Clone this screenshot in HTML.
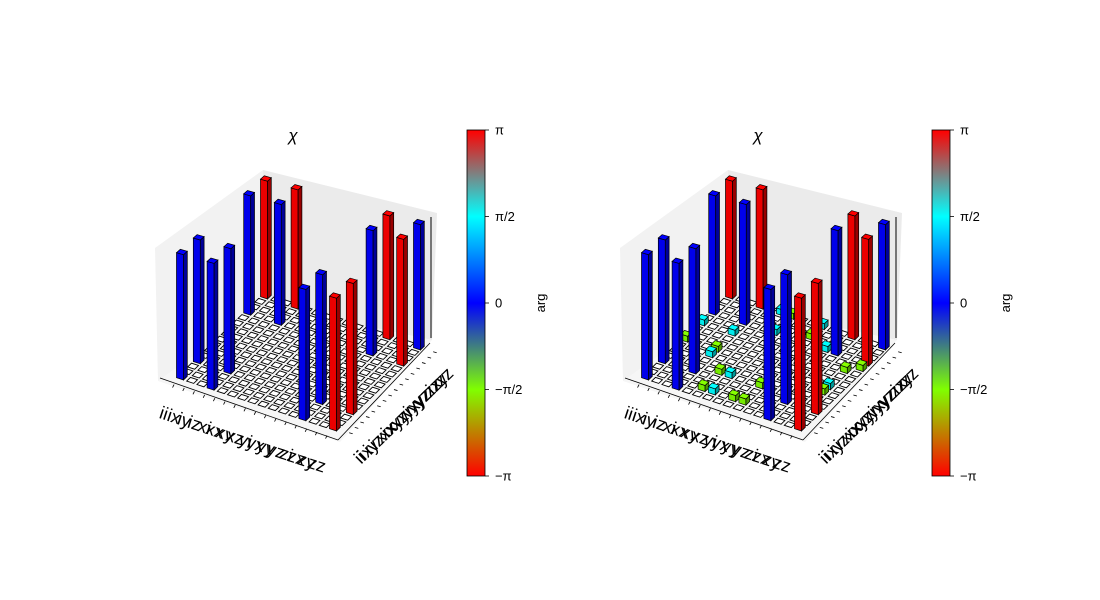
<!DOCTYPE html>
<html><head><meta charset="utf-8">
<style>
body{margin:0;background:#fff;}
svg{display:block;font-family:"Liberation Sans","DejaVu Sans",sans-serif;}
</style></head>
<body>
<svg id="fig" width="1100" height="600" viewBox="0 0 1100 600">
<defs>
<linearGradient id="phaseGrad" x1="0" y1="1" x2="0" y2="0">
<stop offset="0" stop-color="#ff0000"/>
<stop offset="0.25" stop-color="#80ff00"/>
<stop offset="0.5" stop-color="#0000ff"/>
<stop offset="0.75" stop-color="#00ffff"/>
<stop offset="1" stop-color="#ff0000"/>
</linearGradient>
</defs>
</svg>
<script>
const labels = ["ii","ix","iy","iz","xi","xx","xy","xz","yi","yx","yy","yz","zi","zx","zy","zz"];
// left plot (ideal)
const leftRow = [0,0,3,3,0,0,3,3,12,12,15,15,12,12,15,15];
const leftCol = [0,3,0,3,12,15,12,15,0,3,0,3,12,15,12,15];
const leftMag = [0.25,0.25,0.25,0.25,0.25,0.25,0.25,0.25,0.25,0.25,0.25,0.25,0.25,0.25,0.25,0.25];
const leftPhase = [0,0,0,0,0,3.1416,0,3.1416,0,0,3.1416,3.1416,0,3.1416,3.1416,0];
// right plot (estimated)
const rightRow = [0,0,3,3,0,0,3,3,12,12,15,15,12,12,15,15, 0,0,3,3,3,5,6,5,6,8,9,9,5,6,6,9,9,11,14,15,14,14];
const rightCol = [0,3,0,3,12,15,12,15,0,3,0,3,12,15,12,15, 7,10,10,6,7,4,4,1,1,1,1,4,15,12,15,13,15,12,10,11,7,6];
const rightMag = [0.25,0.25,0.25,0.25,0.25,0.25,0.25,0.25,0.25,0.25,0.25,0.25,0.25,0.25,0.25,0.25,
 0.012,0.012,0.012,0.012,0.012,0.012,0.012,0.012,0.012,0.012,0.012,0.012,0.012,0.012,0.012,0.012,0.012,0.012,0.012,0.012,0.012,0.012];
const rightPhase = [0,0,0,0,0,3.1416,0,3.1416,0,0,3.1416,3.1416,0,3.1416,3.1416,0,
 -1.57,1.57,1.57,1.57,-1.57,-1.57,1.57,-1.57,1.57,-1.57,-1.57,-1.57,1.57,1.57,-1.57,-1.57,1.57,1.57,-1.57,-1.57,1.57,-1.57];
const cbTicks = ["\u2212\u03c0","\u2212\u03c0/2","0","\u03c0/2","\u03c0"];
const cbTickVals = [-Math.PI,-Math.PI/2,0,Math.PI/2,Math.PI];

const NS="http://www.w3.org/2000/svg";
const svg=document.getElementById('fig');
function mk(tag,attrs,parent){const e=document.createElementNS(NS,tag);for(const k in attrs)e.setAttribute(k,attrs[k]);(parent||svg).appendChild(e);return e;}

function cmap(p){
  let t=(p+Math.PI)/(2*Math.PI);t=Math.max(0,Math.min(1,t));
  const st=[[0,[1,0,0]],[0.25,[0.5,1,0]],[0.5,[0,0,1]],[0.75,[0,1,1]],[1,[1,0,0]]];
  for(let k=0;k<4;k++){const a=st[k],b=st[k+1];if(t<=b[0]){const f=(t-a[0])/(b[0]-a[0]);return a[1].map((v,n)=>v+(b[1][n]-v)*f);}}
  return [1,0,0];
}
function rgb(c,f){return 'rgb('+c.map(v=>Math.round(Math.min(1,v*f)*255)).join(',')+')';}

function drawPlot(ox,rows,cols,mags,phases,name){
  const g=mk('g',{});
  
  
  const dx=ox;
  const O=[174+dx,378];
  const P=(i,j,z)=>{const H=4*(125+0.5*(i-j));return [O[0]+i*10.2+j*5.6, O[1]+i*3.4-j*5.4-z*H];};
  const pt=a=>a.map(p=>p[0].toFixed(1)+','+p[1].toFixed(1)).join(' ');
  const lw=mk('polygon',{points:pt([[155+dx,248],[263+dx,170],[266+dx,305],[158+dx,381]]),fill:'#f2f2f2'},g);
  
  const bw=mk('polygon',{points:pt([[263+dx,170],[437+dx,213],[432+dx,340],[266+dx,305]]),fill:'#ebebeb'},g);
  
  const fl=mk('polygon',{points:pt([[158+dx,381],[266+dx,305],[432+dx,340],[340+dx,442]]),fill:'#f6f6f6'},g);
  
  const xa=mk('line',{x1:160+dx,y1:378,x2:338+dx,y2:440,stroke:'#000','stroke-width':0.8},g);
  
  const ya=mk('line',{x1:338+dx,y1:440,x2:430+dx,y2:343,stroke:'#000','stroke-width':0.8},g);
  
  const za=mk('line',{x1:431+dx,y1:217,x2:431+dx,y2:338,stroke:'#000','stroke-width':1},g);
  
  for(let k=0;k<16;k++){
    const a=P(k+0.5,-0.9,0);
    const t=mk('line',{x1:a[0],y1:a[1],x2:a[0]-1.5,y2:a[1]+3,stroke:'#000','stroke-width':0.8},g);
    
    const b=P(16.9,k+0.5,0);
    const u=mk('line',{x1:b[0],y1:b[1],x2:b[0]+3.5,y2:b[1]+1,stroke:'#000','stroke-width':0.8},g);
    
  }
  const vals={};
  for(let n=0;n<rows.length;n++)vals[rows[n]+'_'+cols[n]]=[mags[n],phases[n]];
  const cells=[];
  for(let i=0;i<16;i++)for(let j=0;j<16;j++)cells.push([i,j]);
  cells.sort((a,b)=>(3.4*a[0]-5.4*a[1])-(3.4*b[0]-5.4*b[1]));
  const w=0.68;
  for(const [i,j] of cells){
    const v=vals[i+'_'+j];
    const x0=i+0.5-w/2,x1=i+0.5+w/2,y0=j+0.5-w/2,y1=j+0.5+w/2;
    if(!v){
      const q=mk('polygon',{points:pt([P(x0,y0,0),P(x1,y0,0),P(x1,y1,0),P(x0,y1,0)]),fill:'#fff',stroke:'#000','stroke-width':0.9},g);
      
      continue;
    }
    const z=v[0],c=cmap(v[1]);
    const bg=mk('g',{},g);
    
    
    mk('polygon',{points:pt([P(x0,y0,0),P(x1,y0,0),P(x1,y0,z),P(x0,y0,z)]),fill:rgb(c,0.92),stroke:'#000','stroke-width':0.7},bg);
    mk('polygon',{points:pt([P(x1,y0,0),P(x1,y1,0),P(x1,y1,z),P(x1,y0,z)]),fill:rgb(c,0.6),stroke:'#000','stroke-width':0.7},bg);
    mk('polygon',{points:pt([P(x0,y0,z),P(x1,y0,z),P(x1,y1,z),P(x0,y1,z)]),fill:rgb(c,1.05),stroke:'#000','stroke-width':0.7},bg);
  }
  for(let k=0;k<16;k++){
    const t=mk('text',{x:162+dx+k*10.2,y:419+k*3.4,'font-size':18,'text-anchor':'middle',transform:'rotate(18 '+(162+dx+k*10.2)+' '+(419+k*3.4)+')'},g);
    t.textContent=labels[k];
    
    const yx=364+dx+k*5.6, yy=462-k*5.4;
    const u=mk('text',{x:yx,y:yy,'font-size':18,'text-anchor':'middle',transform:'rotate(-44 '+yx+' '+yy+')'},g);
    u.textContent=labels[k];
    
  }
  const ti=mk('text',{x:293+dx,y:141,'font-size':17,'text-anchor':'middle','font-style':'italic'},g);
  ti.textContent='\u03c7';
  
  const cx=467+dx;
  const cb=mk('rect',{x:cx,y:130,width:18,height:346,fill:'url(#phaseGrad)',stroke:'#000','stroke-width':0.8},g);
  
  for(let k=0;k<cbTicks.length;k++){
    const y=130+346*(Math.PI-cbTickVals[k])/(2*Math.PI);
    const tl=mk('line',{x1:cx+18,y1:y,x2:cx+22,y2:y,stroke:'#000','stroke-width':0.8},g);
    
    const tt=mk('text',{x:cx+28,y:y+4.5,'font-size':13},g);
    tt.textContent=cbTicks[k];
    
  }
  const al=mk('text',{x:cx+78,y:303,'font-size':13,'text-anchor':'middle',transform:'rotate(-90 '+(cx+78)+' 303)'},g);
  al.textContent='arg';
  
}
drawPlot(0,leftRow,leftCol,leftMag,leftPhase,'ideal-chi-plot');
drawPlot(465,rightRow,rightCol,rightMag,rightPhase,'measured-chi-plot');
</script>
</body></html>
